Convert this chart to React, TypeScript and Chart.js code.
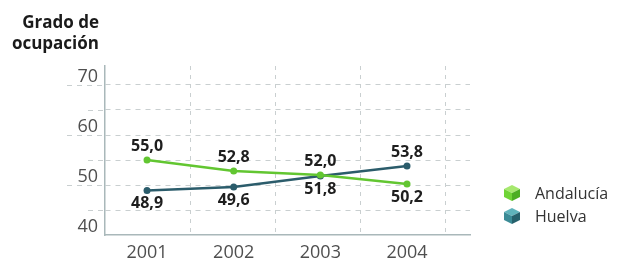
import React, { useEffect, useRef } from "react";
import { Chart, registerables } from "chart.js";

Chart.register(...registerables);

const years = [2001, 2002, 2003, 2004];
const andalucia = [55.0, 52.8, 52.0, 50.2];
const huelva = [48.9, 49.6, 51.8, 53.8];
const andaluciaLabelSide = ["above", "above", "above", "below"];
const huelvaLabelSide = ["below", "below", "below", "above"];
const yTicks = [40, 45, 50, 55, 60, 65, 70];
const yMajor = [40, 50, 60, 70];
const xGridValues = [2001.5, 2002.48, 2003.46, 2004.44];

const GREEN = "#62c631";
const BLUE = "#2b5c6b";
const FONT = "'Open Sans', 'DejaVu Sans', sans-serif";

const fmt = (v: number) => v.toFixed(1).replace(".", ",");

const labelPlugin = {
  id: "pointLabels",
  afterDatasetsDraw(chart: any) {
    const ctx = chart.ctx;
    const sides = [andaluciaLabelSide, huelvaLabelSide];
    chart.data.datasets.forEach((ds: any, di: number) => {
      const meta = chart.getDatasetMeta(di);
      meta.data.forEach((pt: any, i: number) => {
        const v = ds.data[i].y;
        ctx.save();
        ctx.font = `bold 16px ${FONT}`;
        ctx.fillStyle = "#1e1e1e";
        ctx.textAlign = "center";
        ctx.textBaseline = "middle";
        const dy = sides[di][i] === "above" ? -14 : 13;
        ctx.fillText(fmt(v), pt.x, pt.y + dy);
        ctx.restore();
      });
    });
  },
};

const tickExtPlugin = {
  id: "tickExt",
  beforeDatasetsDraw(chart: any) {
    const ctx = chart.ctx;
    const y = chart.scales.y;
    const left = chart.chartArea.left;
    ctx.save();
    ctx.strokeStyle = "#c9cfd0";
    ctx.lineWidth = 1;
    ctx.setLineDash([5, 5]);
    yTicks.forEach((t) => {
      if (t === 40) return;
      const py = Math.round(y.getPixelForValue(t)) + 0.5;
      const len = yMajor.includes(t) ? 38 : 17;
      ctx.beginPath();
      ctx.moveTo(left - len, py);
      ctx.lineTo(left, py);
      ctx.stroke();
    });
    ctx.restore();
  },
};

function Cube({ top, left, right }: { top: string; left: string; right: string }) {
  return (
    <svg width="18" height="18" viewBox="0 0 18 18" style={{ display: "block" }}>
      <polygon points="9,1 17,5 9,9 1,5" fill={top} />
      <polygon points="1,5 9,9 9,17 1,13" fill={left} />
      <polygon points="9,9 17,5 17,13 9,17" fill={right} />
    </svg>
  );
}

export default function App() {
  const ref = useRef<HTMLCanvasElement | null>(null);

  useEffect(() => {
    if (!ref.current) return;
    const chart = new Chart(ref.current, {
      type: "line",
      data: {
        datasets: [
          {
            label: "Andalucía",
            data: years.map((x, i) => ({ x, y: andalucia[i] })),
            borderColor: GREEN,
            backgroundColor: GREEN,
            borderWidth: 2.5,
            pointRadius: 3.5,
            pointBackgroundColor: GREEN,
            pointBorderWidth: 0,
            tension: 0,
          },
          {
            label: "Huelva",
            data: years.map((x, i) => ({ x, y: huelva[i] })),
            borderColor: BLUE,
            backgroundColor: BLUE,
            borderWidth: 2.5,
            pointRadius: 3.5,
            pointBackgroundColor: BLUE,
            pointBorderWidth: 0,
            tension: 0,
          },
        ],
      },
      options: {
        responsive: false,
        animation: false,
        layout: { padding: { top: 66, right: 147, left: 0, bottom: 0 } },
        plugins: { legend: { display: false }, tooltip: { enabled: false } },
        scales: {
          x: {
            type: "linear",
            min: 2000.515,
            max: 2004.727,
            afterBuildTicks: (scale: any) => {
              const all = [...years, ...xGridValues].sort((a, b) => a - b);
              scale.ticks = all.map((value) => ({ value }));
            },
            afterFit: (scale: any) => {
              scale.height = 26;
            },
            grid: {
              drawTicks: false,
              color: (c: any) =>
                c.tick && Number.isInteger(c.tick.value) ? "rgba(0,0,0,0)" : "#c9cfd0",
              lineWidth: 1,
            },
            border: { display: true, color: "#a9b8ba", width: 1.5, dash: [4, 5] },
            ticks: {
              autoSkip: false,
              maxRotation: 0,
              padding: 7,
              color: "#4f4f4f",
              font: { family: FONT, size: 18 },
              callback: (v: any) => (Number.isInteger(v) ? String(v) : ""),
            },
          },
          y: {
            min: 40,
            max: 73.8,
            afterBuildTicks: (scale: any) => {
              scale.ticks = yTicks.map((value) => ({ value }));
            },
            afterFit: (scale: any) => {
              scale.width = 105;
            },
            grid: {
              drawTicks: false,
              color: (c: any) => (c.tick && c.tick.value === 40 ? "rgba(0,0,0,0)" : "#c9cfd0"),
              lineWidth: 1,
            },
            border: { display: true, color: "#a9b8ba", width: 1.5, dash: [5, 5] },
            ticks: {
              padding: 7,
              labelOffset: -8,
              color: "#4f4f4f",
              font: { family: FONT, size: 18 },
              callback: (v: any) => (yMajor.includes(v) ? String(v) : ""),
            },
          },
        },
      },
      plugins: [labelPlugin, tickExtPlugin],
    } as any);
    return () => chart.destroy();
  }, []);

  return (
    <div style={{ position: "fixed", left: 0, top: 0, width: 617, height: 261, background: "#fff", fontFamily: FONT }}>
      <canvas ref={ref} width={617} height={261} style={{ position: "absolute", left: 0, top: 0 }} />
      <div
        style={{
          position: "absolute",
          right: 617 - 99,
          top: 11,
          textAlign: "right",
          fontWeight: 700,
          fontSize: 17,
          lineHeight: "21px",
          color: "#1a1a1a",
          whiteSpace: "nowrap",
        }}
      >
        Grado de
        <br />
        ocupación
      </div>
      <div style={{ position: "absolute", left: 503, top: 182, display: "flex", alignItems: "center" }}>
        <Cube top="#a6e86e" left="#6fd436" right="#4cae22" />
        <span style={{ marginLeft: 14, fontSize: 16, color: "#333" }}>Andalucía</span>
      </div>
      <div style={{ position: "absolute", left: 503, top: 205, display: "flex", alignItems: "center" }}>
        <Cube top="#5fb3bb" left="#3b8b96" right="#26616c" />
        <span style={{ marginLeft: 14, fontSize: 16, color: "#333" }}>Huelva</span>
      </div>
    </div>
  );
}
